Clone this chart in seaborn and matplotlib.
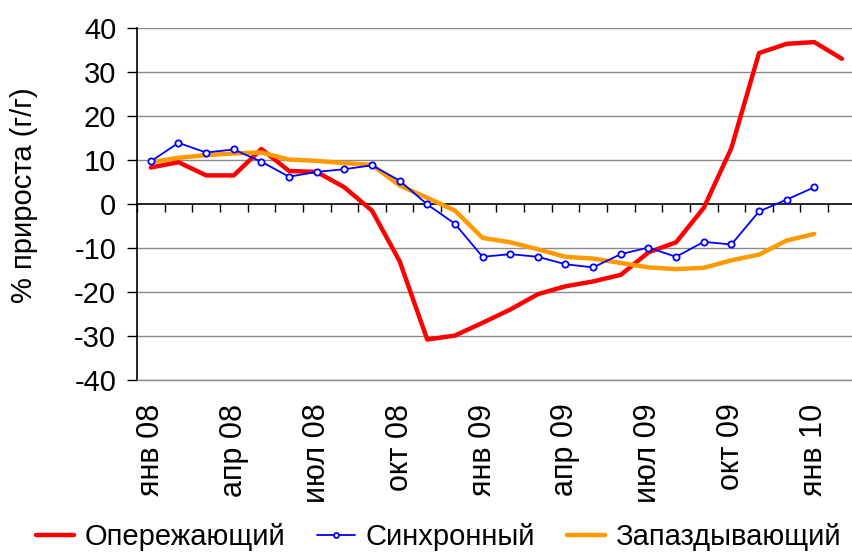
import pandas as pd
import matplotlib.pyplot as plt
import seaborn as sns

# months from янв 08 to фев 10
month_labels = ['янв 08', 'фев 08', 'мар 08', 'апр 08', 'май 08', 'июн 08',
                'июл 08', 'авг 08', 'сен 08', 'окт 08', 'ноя 08', 'дек 08',
                'янв 09', 'фев 09', 'мар 09', 'апр 09', 'май 09', 'июн 09',
                'июл 09', 'авг 09', 'сен 09', 'окт 09', 'ноя 09', 'дек 09',
                'янв 10', 'фев 10']
tick_labels = ['янв 08', 'апр 08', 'июл 08', 'окт 08', 'янв 09',
               'апр 09', 'июл 09', 'окт 09', 'янв 10']

leading = [8.3, 9.5, 6.5, 6.5, 12.5, 7.5, 7.3, 3.8, -1.5, -13.0, -30.8, -29.9,
           -27.0, -24.0, -20.5, -18.7, -17.6, -16.1, -11.0, -8.7, -0.9, 12.7,
           34.3, 36.4, 36.8, 33.0]
synchronous = [9.7, 13.9, 11.7, 12.4, 9.6, 6.2, 7.3, 7.9, 8.8, 5.3, -0.1, -4.5,
               -12.0, -11.4, -12.0, -13.7, -14.4, -11.4, -9.9, -12.0, -8.6,
               -9.2, -1.7, 1.0, 3.8]
lagging = [9.5, 10.5, 11.1, 11.5, 11.7, 10.1, 9.8, 9.3, 8.9, 4.2, 1.4, -1.5,
           -7.7, -8.7, -10.3, -12.0, -12.4, -13.4, -14.4, -14.8, -14.5, -12.8,
           -11.5, -8.3, -6.8]

sns.set_style('white')
plt.rcParams['font.family'] = ['Liberation Sans', 'DejaVu Sans']
plt.rcParams['font.size'] = 21
plt.rcParams['axes.unicode_minus'] = False
plt.rcParams['text.color'] = 'black'
plt.rcParams['axes.labelcolor'] = 'black'
plt.rcParams['xtick.color'] = 'black'
plt.rcParams['ytick.color'] = 'black'

df_lead = pd.DataFrame({'m': range(len(leading)), 'v': leading})
df_sync = pd.DataFrame({'m': range(len(synchronous)), 'v': synchronous})
df_lag = pd.DataFrame({'m': range(len(lagging)), 'v': lagging})

fig = plt.figure(figsize=(8.53, 5.52), dpi=100)
ax = fig.add_axes([137 / 853, 1 - 380 / 552, 1 - 137 / 853, 352 / 552])

# gridlines
for yv in range(-40, 41, 10):
    if yv != 0:
        ax.axhline(yv, color='#8a8a8a', lw=1, zorder=0)

sns.lineplot(data=df_lead, x='m', y='v', color='#ff0000', lw=3.2,
             label='Опережающий', ax=ax, zorder=3)
sns.lineplot(data=df_lag, x='m', y='v', color='#ff9900', lw=3.2,
             label='Запаздывающий', ax=ax, zorder=4)
sns.lineplot(data=df_sync, x='m', y='v', color='#0000ff', lw=1.3,
             marker='o', markersize=4.5, markerfacecolor='white',
             markeredgecolor='#0000ff', markeredgewidth=1.3,
             label='Синхронный', ax=ax, zorder=5)

ax.set_xlim(-0.5, 25.4)
ax.set_ylim(-40, 40)
ax.set_yticks(range(-40, 41, 10))
ax.set_xticks(range(0, 25, 3))
ax.set_xticklabels(tick_labels, rotation=90, fontsize=22)
ax.tick_params(axis='x', length=0, pad=17)
ax.tick_params(axis='y', direction='out', length=7, width=1, pad=8, left=True,
               labelsize=21)
ax.set_xlabel('')
ax.set_ylabel('% прироста (г/г)', fontsize=21)
ax.yaxis.set_label_coords(-0.138, 0.526)

for s in ['top', 'right']:
    ax.spines[s].set_visible(False)
ax.spines['bottom'].set_color('#8a8a8a')
ax.spines['bottom'].set_linewidth(1)
ax.spines['left'].set_color('black')
ax.spines['left'].set_linewidth(1.2)

# category axis crossing at zero with tick marks between months
sec = ax.secondary_xaxis(0.5)
sec.set_alignment('bottom')
sec.set_xticks([i + 0.5 for i in range(-1, 26)])
sec.set_xticklabels([])
sec.tick_params(direction='out', length=6, width=1, color='black')
sec.spines['bottom'].set_color('black')
sec.spines['bottom'].set_linewidth(1.2)

handles, labels = ax.get_legend_handles_labels()
order = [labels.index('Опережающий'), labels.index('Синхронный'),
         labels.index('Запаздывающий')]
ax.get_legend().remove()
fig.legend([handles[i] for i in order], [labels[i] for i in order],
           loc='center', bbox_to_anchor=(0.514, 0.027), ncol=3,
           frameon=False, handlelength=1.3, handletextpad=0.35,
           columnspacing=1.1, fontsize=21, borderaxespad=0, markerscale=0.8)

fig.savefig('out.png', dpi=100)
